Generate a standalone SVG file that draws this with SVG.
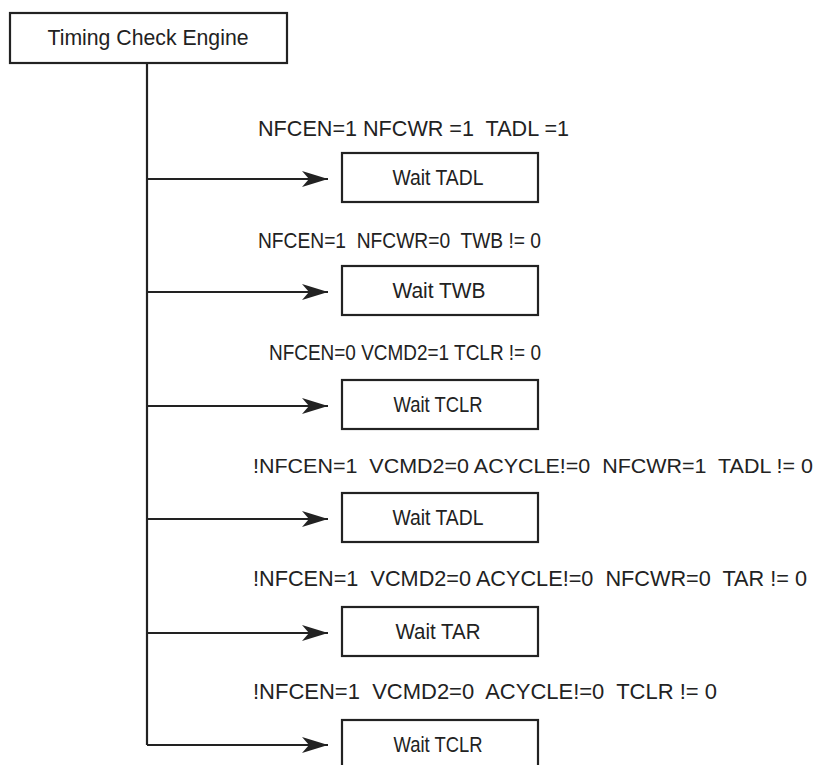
<svg xmlns="http://www.w3.org/2000/svg" width="822" height="765" viewBox="0 0 822 765">
<style>
.box{fill:#fff;stroke:#222;stroke-width:2.2}
.t{font-family:"Liberation Sans",Arial,sans-serif;font-size:22px;fill:#222;white-space:pre}
.c{text-anchor:middle}
.ln{stroke:#222;stroke-width:2.2;fill:none}
</style>
<defs>
<marker id="ah" viewBox="0 0 26 16" refX="26" refY="8" markerWidth="26" markerHeight="16" markerUnits="userSpaceOnUse" orient="auto">
<path d="M0,0 L26,8 L0,16 L7,8 z" fill="#222"/>
</marker>
</defs>
<rect width="822" height="765" fill="#fff"/>
<g id="connectors">
<path class="ln" d="M147,63 V745"/>
<path class="ln" d="M147,179 H328" marker-end="url(#ah)"/>
<path class="ln" d="M147,292 H328" marker-end="url(#ah)"/>
<path class="ln" d="M147,406 H328" marker-end="url(#ah)"/>
<path class="ln" d="M147,519 H328" marker-end="url(#ah)"/>
<path class="ln" d="M147,633 H328" marker-end="url(#ah)"/>
<path class="ln" d="M147,745 H328" marker-end="url(#ah)"/>
</g>
<g id="labels">
<text class="t" x="258" y="136" textLength="311" lengthAdjust="spacingAndGlyphs">NFCEN=1 NFCWR =1  TADL =1</text>
<text class="t" x="258" y="248" textLength="283" lengthAdjust="spacingAndGlyphs">NFCEN=1  NFCWR=0  TWB != 0</text>
<text class="t" x="269" y="360" textLength="272" lengthAdjust="spacingAndGlyphs">NFCEN=0 VCMD2=1 TCLR != 0</text>
<text class="t" x="253" y="473" style="font-size:21px" textLength="560" lengthAdjust="spacingAndGlyphs">!NFCEN=1  VCMD2=0 ACYCLE!=0  NFCWR=1  TADL != 0</text>
<text class="t" x="253" y="586" textLength="554" lengthAdjust="spacingAndGlyphs">!NFCEN=1  VCMD2=0 ACYCLE!=0  NFCWR=0  TAR != 0</text>
<text class="t" x="253" y="699" textLength="464" lengthAdjust="spacingAndGlyphs">!NFCEN=1  VCMD2=0  ACYCLE!=0  TCLR != 0</text>
</g>
<g id="engine">
<rect class="box" x="10" y="13" width="277" height="50"/>
<text class="t c" x="148" y="45" textLength="201" lengthAdjust="spacingAndGlyphs">Timing Check Engine</text>
</g>
<g id="wait1">
<rect class="box" x="342" y="153" width="196" height="49"/>
<text class="t c" x="438" y="185" textLength="91" lengthAdjust="spacingAndGlyphs">Wait TADL</text>
</g>
<g id="wait2">
<rect class="box" x="342" y="266" width="196" height="49"/>
<text class="t c" x="439" y="298" textLength="93" lengthAdjust="spacingAndGlyphs">Wait TWB</text>
</g>
<g id="wait3">
<rect class="box" x="342" y="380" width="196" height="49"/>
<text class="t c" x="438" y="412" textLength="89" lengthAdjust="spacingAndGlyphs">Wait TCLR</text>
</g>
<g id="wait4">
<rect class="box" x="342" y="493" width="196" height="49"/>
<text class="t c" x="438" y="525" textLength="91" lengthAdjust="spacingAndGlyphs">Wait TADL</text>
</g>
<g id="wait5">
<rect class="box" x="342" y="607" width="196" height="49"/>
<text class="t c" x="438" y="639" textLength="85" lengthAdjust="spacingAndGlyphs">Wait TAR</text>
</g>
<g id="wait6">
<rect class="box" x="342" y="720" width="196" height="49"/>
<text class="t c" x="438" y="752" textLength="89" lengthAdjust="spacingAndGlyphs">Wait TCLR</text>
</g>
</svg>
